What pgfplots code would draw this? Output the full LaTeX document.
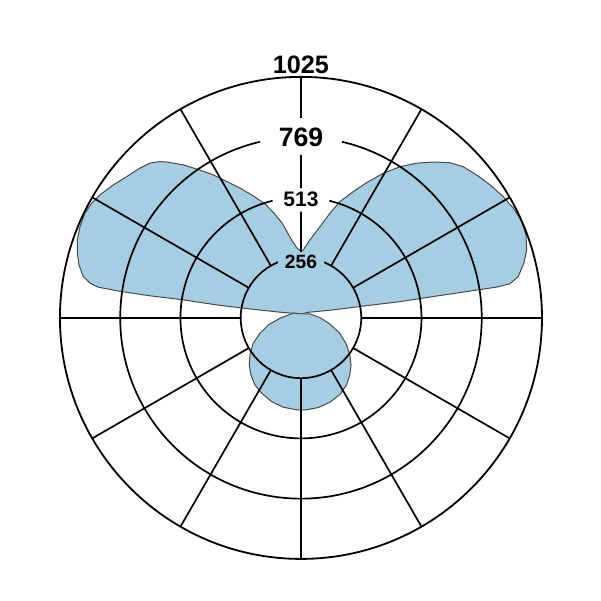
\documentclass[border=0pt]{standalone}
\usepackage{fontspec}
\setmainfont{Liberation Sans}
\usepackage{pgfplots}
\pgfplotsset{compat=1.18}

\definecolor{lobe}{HTML}{A6CEE3}
\definecolor{outl}{HTML}{4A4A4A}

\begin{document}
\begin{tikzpicture}
\begin{axis}[
    hide axis,
    scale only axis,
    width=300.5pt, height=300.5pt,
    xmin=-1280, xmax=1276,
    ymin=-1204, ymax=1352,
    clip=false,
]
% upper lobes (cd, x/y components)
\addplot[fill=lobe, draw=outl, line width=0.5pt] coordinates {
    (0,13) (-18,19) (-77,23) (-217,38) (-357,55) (-502,77) (-642,94)
    (-770,113) (-863,131) (-897,148) (-926,176) (-944,225) (-951,275)
    (-951,332) (-940,388) (-919,445) (-890,488) (-855,523) (-798,566)
    (-741,601) (-685,637) (-642,658) (-600,665) (-571,663) (-501,651)
    (-430,629) (-373,608) (-316,580) (-259,552) (-203,519) (-153,485)
    (-118,449) (-82,406) (-61,370) (-40,332) (-18,298) (0,283)
    (10,289) (38,332) (81,388) (123,445) (166,495) (222,537) (279,575)
    (350,615) (421,643) (492,658) (563,663) (634,660) (690,643)
    (747,608) (804,566) (860,516) (903,467) (939,410) (957,353)
    (960,289) (948,233) (924,176) (889,145) (832,131) (705,112)
    (563,91) (421,69) (279,52) (137,34) (24,23)
} -- cycle;
% lower lobe
\addplot[fill=lobe, draw=outl, line width=0.5pt] coordinates {
    (0,17) (-33,20) (-89,-1) (-139,-30) (-174,-65) (-203,-108)
    (-217,-157) (-220,-200) (-213,-242) (-196,-285) (-167,-320)
    (-125,-356) (-75,-380) (-18,-391) (24,-391) (74,-381) (123,-359)
    (166,-325) (194,-285) (208,-242) (213,-200) (208,-157) (191,-108)
    (163,-63) (123,-26) (81,1) (38,17)
} -- cycle;

% polar grid, broken where the ring labels sit
\begin{scope}[even odd rule]
\clip (axis cs:-1280,-1204) rectangle (axis cs:1276,1352)
    (axis cs:-98,196) rectangle (axis cs:98,281)
    (axis cs:-121,452) rectangle (axis cs:121,552)
    (axis cs:-174,693) rectangle (axis cs:174,851);
\draw[black, line width=0.85pt] (axis cs:0,0) circle[radius=256.25];
\draw[black, line width=0.85pt] (axis cs:0,0) circle[radius=512.5];
\draw[black, line width=0.85pt] (axis cs:0,0) circle[radius=768.75];
\draw[black, line width=0.9pt] (axis cs:0,0) circle[radius=1025];
\pgfplotsinvokeforeach{0,30,...,330}{
    \draw[black, line width=0.85pt]
        (axis cs:{256.25*cos(#1)},{256.25*sin(#1)}) --
        (axis cs:{1025*cos(#1)},{1025*sin(#1)});
}
\end{scope}

% ring labels
\node[inner sep=0pt, font=\fontsize{9.6}{10}\selectfont\bfseries]
      at (axis cs:0,238) {256};
\node[inner sep=0pt, font=\fontsize{10.5}{11}\selectfont\bfseries]
      at (axis cs:0,506) {513};
\node[inner sep=0pt, font=\fontsize{13.3}{14}\selectfont\bfseries]
      at (axis cs:0,770) {769};
\node[inner sep=0pt, anchor=base, font=\fontsize{12.6}{14}\selectfont\bfseries]
      at (axis cs:0,1038) {1025};
\end{axis}
\pgfresetboundingbox
\path (current axis.south west) rectangle (current axis.north east);
\end{tikzpicture}
\end{document}
